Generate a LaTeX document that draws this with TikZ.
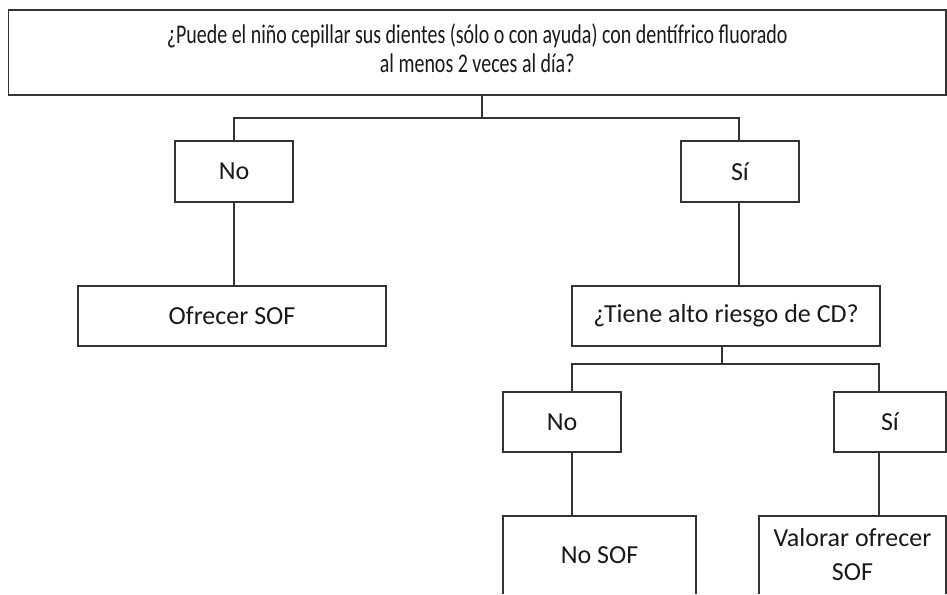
\documentclass[tikz,border=0pt]{standalone}
\usepackage{fontspec}
\setmainfont{Carlito}
\newfontfamily\condfont[FakeStretch=0.74]{Carlito}
\begin{document}
\begin{tikzpicture}[x=1pt,y=-1pt,
  box/.style={draw=linecol,line width=1.5pt,rectangle,inner sep=0pt,align=center,font=\fontsize{26}{34}\selectfont,text=black!90},
  openbox/.style={draw=none,rectangle,inner sep=0pt,align=center,font=\fontsize{26}{34}\selectfont,text=black!90},
  link/.style={draw=linecol,line width=1.5pt}]
\definecolor{linecol}{HTML}{333333}
\useasboundingbox (0,0) rectangle (947,594);
% nodes
\node[box,minimum width=937.5pt,minimum height=85pt,font=\condfont\fontsize{27}{30}\selectfont] (top) at (477.25,52.5)
  {\raisebox{4pt}{\begin{tabular}{@{}c@{}}¿Puede el niño cepillar sus dientes (sólo o con ayuda) con dentífrico fluorado\\[-1pt]al menos 2 veces al día?\end{tabular}}};
\node[box,minimum width=118pt,minimum height=61pt] (no1) at (234,171.5) {No};
\node[box,minimum width=118pt,minimum height=61pt] (si1) at (740,171.5) {Sí};
\node[box,minimum width=308pt,minimum height=60pt] (ofr) at (232,316) {Ofrecer SOF};
\node[box,minimum width=308pt,minimum height=60pt] (tiene) at (726,316) {¿Tiene alto riesgo de CD?};
\node[box,minimum width=118pt,minimum height=60pt] (no2) at (562,422) {No};
\node[box,minimum width=112pt,minimum height=60pt] (si2) at (890,422) {Sí};
\node[openbox,minimum width=193pt,minimum height=78pt] (nosof) at (599.5,555) {No SOF};
\node[openbox,minimum width=187pt,minimum height=78pt] (val) at (852.5,555) {Valorar ofrecer\\SOF};
\draw[link] (nosof.south west) -- (nosof.north west) -- (nosof.north east) -- (nosof.south east);
\draw[link] (val.south west) -- (val.north west) -- (val.north east) -- (val.south east);
% junctions
\coordinate (j1) at (482,118);
\coordinate (j2) at (722,364);
\coordinate (cl) at (572,364);
\coordinate (cr) at (879,364);
\coordinate (bl) at (234,118);
\coordinate (br) at (739,118);
% connectors
\draw[link] (j1 |- top.south) -- (j1);
\draw[link] (bl |- no1.north) -- (bl) -- (br) -- (br |- si1.north);
\draw[link] (bl |- no1.south) -- (bl |- ofr.north);
\draw[link] (br |- si1.south) -- (br |- tiene.north);
\draw[link] (j2 |- tiene.south) -- (j2);
\draw[link] (cl |- no2.north) -- (cl) -- (cr) -- (cr |- si2.north);
\draw[link] (cl |- no2.south) -- (cl |- nosof.north);
\draw[link] (cr |- si2.south) -- (cr |- val.north);
\end{tikzpicture}
\end{document}
